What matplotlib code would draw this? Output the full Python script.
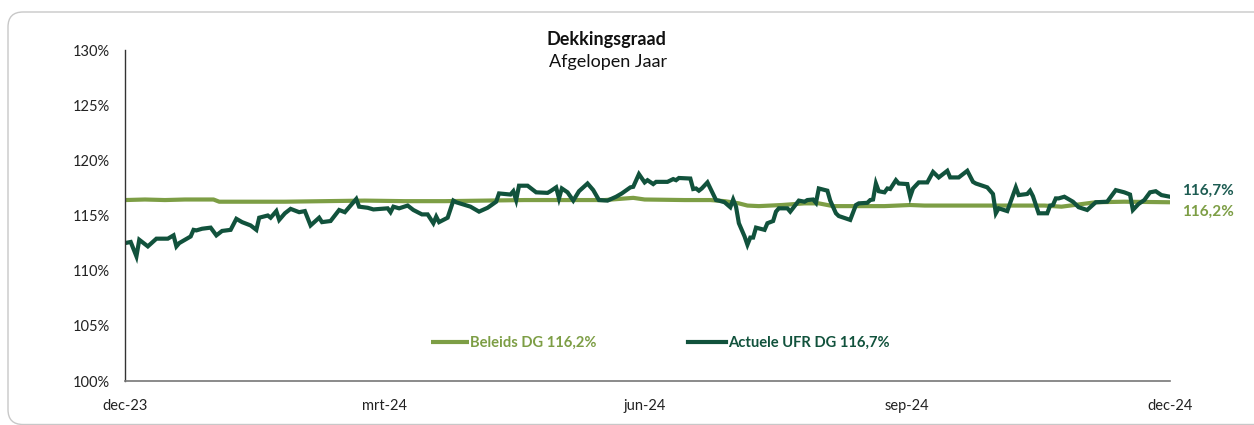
import numpy as np
import matplotlib
matplotlib.use("Agg")
import matplotlib.pyplot as plt
from matplotlib.patches import FancyBboxPatch

plt.rcParams['font.family'] = ['Lato', 'DejaVu Sans']

# dagen sinds 31-12-2023
START = np.datetime64('2023-12-31')

beleids_dag = [0, 7, 14, 21, 28, 31, 33, 42, 56, 70, 84, 98, 112, 126, 140, 154, 168, 178,
               182, 196, 205, 210, 215, 218, 222, 230, 238, 243, 248, 266, 275, 280, 294,
               308, 322, 328, 334, 340, 350, 366]
beleids_dg = [116.4, 116.45, 116.4, 116.45, 116.45, 116.45, 116.25, 116.25, 116.25, 116.3,
              116.35, 116.3, 116.3, 116.35, 116.4, 116.4, 116.4, 116.6, 116.45, 116.4, 116.4,
              116.3, 116.1, 115.9, 115.85, 115.95, 116.1, 116.1, 115.85, 115.85, 115.95,
              115.9, 115.9, 115.9, 115.9, 115.8, 116.0, 116.2, 116.25, 116.2]

actueel_dag = [0, 2, 4, 5, 6, 8, 11, 15, 17, 18, 19, 23, 24, 25, 27, 30, 32, 34, 37, 39, 41,
               44, 46, 47, 50, 51, 53, 54, 56, 58, 61, 63, 65, 68, 69, 72, 75, 77, 79, 81, 82,
               85, 87, 92, 93, 94, 96, 99, 101, 104, 106, 108, 109, 110, 113, 115, 116, 121,
               124, 127, 130, 131, 135, 136, 137, 138, 141, 144, 148, 149, 151, 152, 153, 155,
               157, 159, 162, 164, 166, 169, 172, 174, 177, 178, 180, 182, 183, 185, 186, 190,
               192, 193, 194, 198, 199, 200, 201, 202, 204, 207, 208, 210, 212, 213, 214, 215,
               217, 218, 219, 220, 221, 224, 225, 227, 228, 229, 232, 233, 236, 238, 239, 241,
               242, 243, 246, 247, 249, 250, 254, 256, 257, 260, 261, 262, 263, 264, 266, 267,
               268, 270, 271, 274, 275, 276, 278, 281, 283, 285, 288, 289, 292, 293, 295, 297,
               298, 302, 304, 305, 306, 309, 312, 313, 316, 317, 318, 320, 323, 324, 325, 326,
               327, 329, 332, 334, 337, 340, 344, 347, 350, 352, 353, 355, 357, 359, 361, 363,
               366]
actueel_dg = [112.5, 112.6, 111.3, 112.8, 112.6, 112.2, 112.9, 112.9, 113.2, 112.2, 112.5,
              113.1, 113.7, 113.65, 113.8, 113.9, 113.2, 113.6, 113.7, 114.7, 114.4, 114.1,
              113.7, 114.8, 115.0, 114.8, 115.4, 114.6, 115.2, 115.6, 115.3, 115.4, 114.1,
              114.8, 114.4, 114.5, 115.5, 115.3, 115.9, 116.5, 115.8, 115.7, 115.55, 115.65,
              115.3, 115.8, 115.65, 115.9, 115.5, 115.1, 115.1, 114.3, 114.9, 114.4, 114.8,
              116.35, 116.2, 115.8, 115.35, 115.7, 116.25, 117.0, 116.9, 117.2, 116.4, 117.7,
              117.7, 117.1, 117.05, 117.2, 117.55, 116.55, 117.45, 117.1, 116.35, 117.2, 117.9,
              117.3, 116.4, 116.35, 116.7, 117.0, 117.55, 117.6, 118.75, 118.0, 118.2, 117.85,
              118.05, 118.05, 118.3, 118.2, 118.4, 118.35, 117.4, 117.45, 117.25, 117.45, 118.0,
              116.4, 116.35, 116.2, 115.75, 116.45, 115.8, 114.3, 113.1, 112.35, 113.0, 113.0,
              113.9, 113.7, 114.3, 114.5, 115.35, 115.65, 115.65, 115.35, 116.35, 116.25,
              116.4, 116.45, 116.15, 117.45, 117.25, 116.35, 115.2, 114.95, 114.6, 115.95,
              116.1, 116.15, 116.4, 116.45, 117.9, 117.2, 117.1, 117.45, 117.4, 118.2, 117.9,
              117.85, 116.7, 117.45, 118.0, 118.0, 118.95, 118.45, 119.05, 118.45, 118.45,
              118.65, 119.05, 118.05, 117.9, 117.55, 116.95, 115.2, 115.65, 115.4, 117.55,
              116.85, 116.95, 117.25, 116.75, 115.2, 115.2, 115.9, 115.95, 116.55, 116.55,
              116.7, 116.25, 115.75, 115.5, 116.2, 116.25, 117.3, 117.1, 116.9, 115.5, 116.05,
              116.4, 117.1, 117.2, 116.85, 116.7]

tick_datums = ['2023-12-31', '2024-03-31', '2024-06-30', '2024-09-30', '2024-12-31']
tick_labels = ['dec-23', 'mrt-24', 'jun-24', 'sep-24', 'dec-24']
y_ticks = [100, 105, 110, 115, 120, 125, 130]

licht = '#7d9e45'
donker = '#11523c'
donker_tekst = '#1d5c52'

fig = plt.figure(figsize=(12.54, 4.25), dpi=100)
fig.patch.set_facecolor('white')

# kader met afgeronde hoek
kader = FancyBboxPatch((0.08, 0.005), 13.0, 4.125, boxstyle='round,pad=0,rounding_size=0.15',
                       transform=fig.dpi_scale_trans, facecolor='none', edgecolor='#c8c8c8',
                       linewidth=1.0, zorder=-10)
fig.patches.append(kader)

ax = fig.add_axes([125 / 1254, 44 / 425, 1045 / 1254, 331 / 425])
ax.patch.set_alpha(0)

x_b = START + np.array(beleids_dag).astype('timedelta64[D]')
x_a = START + np.array(actueel_dag).astype('timedelta64[D]')

ax.plot(x_b, beleids_dg, color=licht, lw=3, label='Beleids DG 116,2%', solid_capstyle='butt')
ax.plot(x_a, actueel_dg, color=donker, lw=3, label='Actuele UFR DG 116,7%', solid_joinstyle='miter')

ax.set_ylim(100, 130)
ax.set_xlim(np.datetime64(tick_datums[0]), np.datetime64(tick_datums[-1]))
ax.set_yticks(y_ticks)
ax.set_yticklabels([f'{v}%' for v in y_ticks])
ax.set_xticks([np.datetime64(d) for d in tick_datums])
ax.set_xticklabels(tick_labels)
ax.tick_params(axis='y', length=0, pad=11, labelsize=10.5, labelcolor='#222222')
ax.tick_params(axis='x', length=0, pad=13, labelsize=10.5, labelcolor='#222222')

for s in ['top', 'right']:
    ax.spines[s].set_visible(False)
ax.spines['left'].set_color('#333333')
ax.spines['bottom'].set_color('#777777')
ax.spines['left'].set_linewidth(1.0)
ax.spines['bottom'].set_linewidth(1.2)

fig.text(606 / 1254, 1 - 40 / 425, 'Dekkingsgraad', ha='center', va='center',
         fontsize=13, fontweight='bold', color='#111111')
fig.text(608 / 1254, 1 - 62 / 425, 'Afgelopen Jaar', ha='center', va='center',
         fontsize=13, color='#111111')

leg = ax.legend(loc='center', bbox_to_anchor=(0.512, 0.115), ncol=2, frameon=False,
                handlelength=2.6, handletextpad=0.1, columnspacing=6.2,
                prop={'weight': 'bold', 'size': 10.6})
for txt, kl in zip(leg.get_texts(), [licht, donker]):
    txt.set_color(kl)

fig.text(1182 / 1254, 1 - 191 / 425, '116,7%', fontsize=11, fontweight='bold',
         color=donker_tekst, va='center', ha='left')
fig.text(1182 / 1254, 1 - 212 / 425, '116,2%', fontsize=11, fontweight='bold',
         color=licht, va='center', ha='left')

fig.savefig('out.png', dpi=100, facecolor='white')
